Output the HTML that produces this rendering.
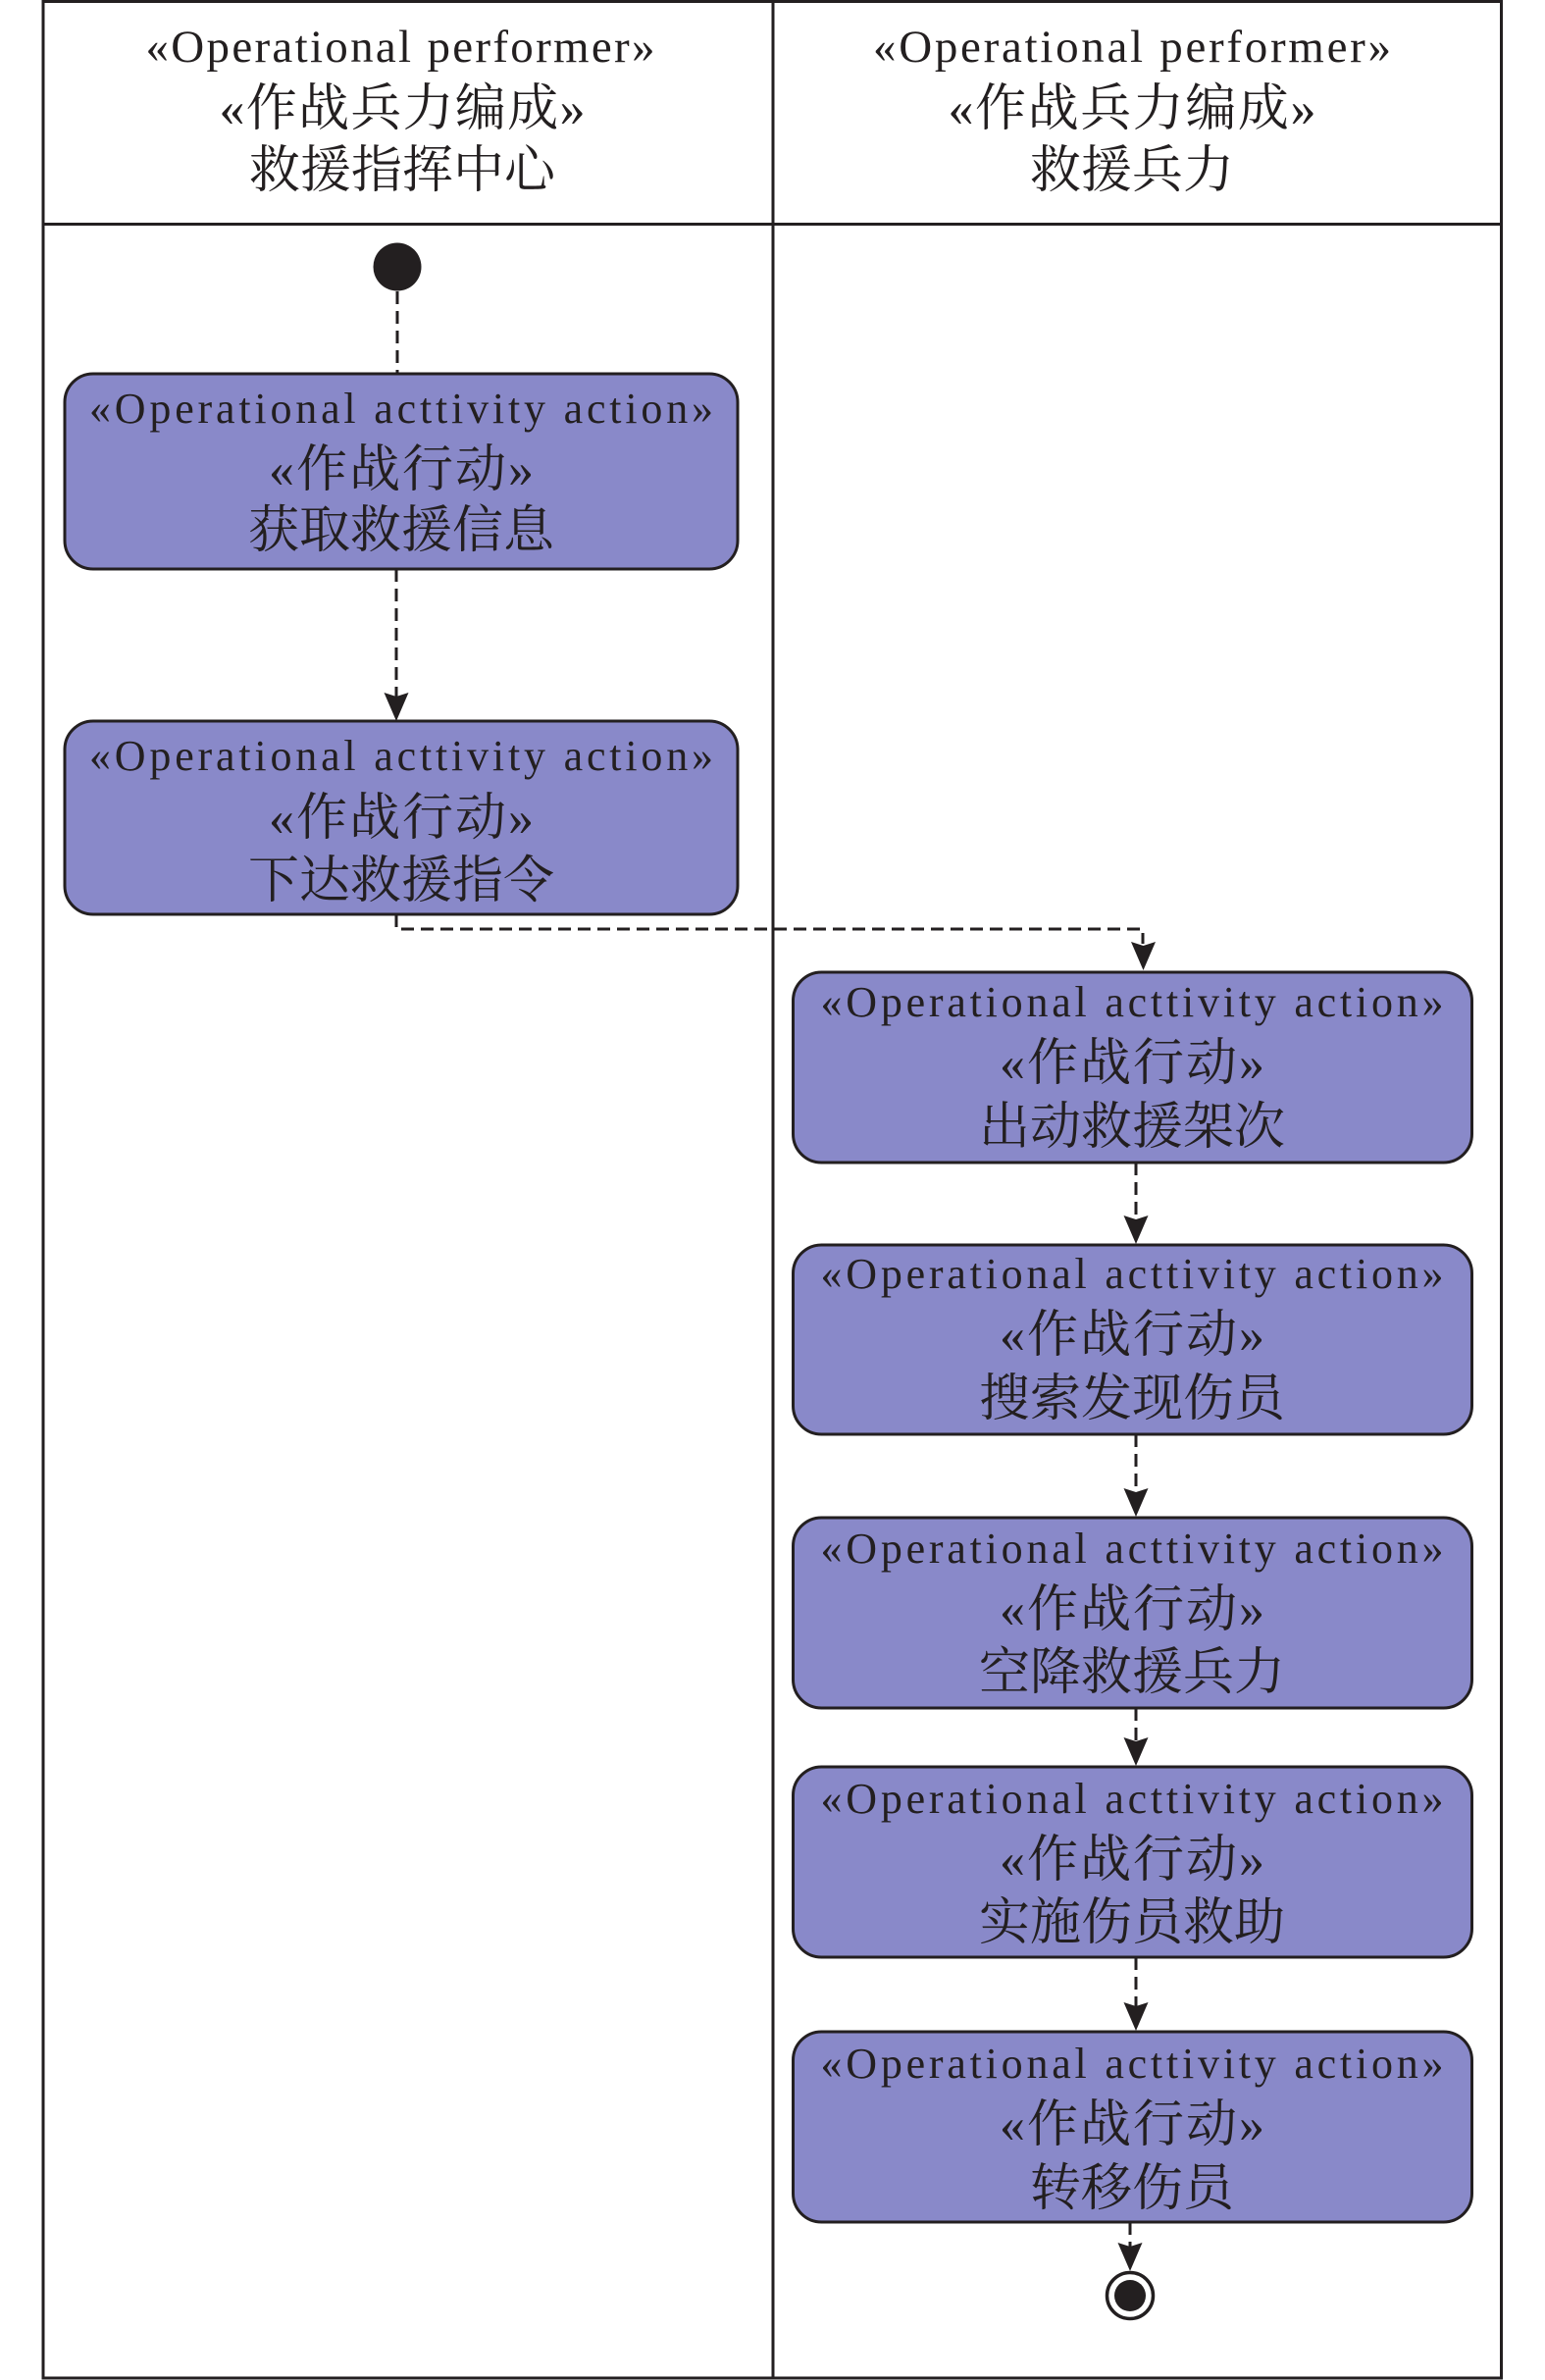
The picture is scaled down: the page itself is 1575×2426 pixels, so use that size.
<!DOCTYPE html>
<html>
<head>
<meta charset="utf-8">
<style>
  html, body { margin: 0; padding: 0; background: #ffffff; }
  svg { display: block; }
  .lat { font-family: "Liberation Serif", "Noto Serif CJK SC", serif; fill: #231f20; }
  .cjk { font-family: "Liberation Serif", "Noto Serif CJK SC", "Noto Sans CJK SC", serif; fill: #231f20; }
</style>
</head>
<body>
<svg xmlns="http://www.w3.org/2000/svg" width="1575" height="2426" viewBox="0 0 1575 2426">
  <rect x="0" y="0" width="1575" height="2426" fill="#ffffff"/>

  <!-- Swimlane frame -->
  <g stroke="#231f20" stroke-width="3" fill="none">
    <rect x="44" y="1.5" width="1486.5" height="2422.5"/>
    <line x1="44" y1="228.5" x2="1530.5" y2="228.5"/>
    <line x1="788" y1="1.5" x2="788" y2="2424"/>
  </g>

  <!-- Lane headers -->
  <text class="lat" x="408" y="63" font-size="47" text-anchor="middle" textLength="519">«Operational performer»</text>
  <text class="cjk" x="410" y="128" font-size="52" text-anchor="middle" textLength="373">«作战兵力编成»</text>
  <text class="cjk" x="410" y="191" font-size="52" text-anchor="middle">救援指挥中心</text>

  <text class="lat" x="1154" y="63" font-size="47" text-anchor="middle" textLength="528">«Operational performer»</text>
  <text class="cjk" x="1154" y="128" font-size="52" text-anchor="middle" textLength="375">«作战兵力编成»</text>
  <text class="cjk" x="1154" y="191" font-size="52" text-anchor="middle">救援兵力</text>

  <!-- Initial node -->
  <circle cx="405" cy="272" r="24.5" fill="#231f20"/>

  <!-- Connectors (dashed) -->
  <g stroke="#231f20" stroke-width="3" fill="none" stroke-dasharray="13 7">
    <line x1="405" y1="297" x2="405" y2="381"/>
    <line x1="404" y1="580" x2="404" y2="710"/>
    <path d="M404 932 V947 H1165 V962"/>
    <line x1="1158" y1="1185" x2="1158" y2="1243"/>
    <line x1="1158" y1="1462" x2="1158" y2="1521"/>
    <line x1="1158" y1="1741" x2="1158" y2="1775"/>
    <line x1="1158" y1="1995" x2="1158" y2="2045"/>
    <line x1="1152" y1="2265" x2="1152" y2="2290"/>
  </g>

  <!-- Arrowheads -->
  <g fill="#231f20">
    <path d="M404 735 L391.5 706 L404 710 L416.5 706 Z"/>
    <path d="M1165.5 989 L1153 960 L1165.5 964 L1178 960 Z"/>
    <path d="M1158 1268 L1145.5 1239 L1158 1243 L1170.5 1239 Z"/>
    <path d="M1158 1546 L1145.5 1517 L1158 1521 L1170.5 1517 Z"/>
    <path d="M1158 1800 L1145.5 1771 L1158 1775 L1170.5 1771 Z"/>
    <path d="M1158 2070 L1145.5 2041 L1158 2045 L1170.5 2041 Z"/>
    <path d="M1152 2315 L1139.5 2286 L1152 2290 L1164.5 2286 Z"/>
  </g>

  <!-- Final node -->
  <circle cx="1152" cy="2340" r="23.5" fill="#ffffff" stroke="#231f20" stroke-width="3.5"/>
  <circle cx="1152" cy="2340" r="16" fill="#231f20"/>

  <!-- Action boxes -->
  <g fill="#8989c9" stroke="#231f20" stroke-width="3">
    <rect x="66" y="381" width="686" height="199" rx="29" ry="29"/>
    <rect x="66" y="735" width="686" height="197" rx="29" ry="29"/>
    <rect x="808.5" y="991" width="692" height="194" rx="29" ry="29"/>
    <rect x="808.5" y="1269" width="692" height="193" rx="29" ry="29"/>
    <rect x="808.5" y="1547" width="692" height="194" rx="29" ry="29"/>
    <rect x="808.5" y="1801" width="692" height="194" rx="29" ry="29"/>
    <rect x="808.5" y="2071" width="692" height="194" rx="29" ry="29"/>
  </g>

  <!-- Box 1 -->
  <text class="lat" x="409" y="431" font-size="44" text-anchor="middle" textLength="636">«Operational acttivity action»</text>
  <text class="cjk" x="409" y="496" font-size="52" text-anchor="middle" textLength="270">«作战行动»</text>
  <text class="cjk" x="409" y="558" font-size="52" text-anchor="middle">获取救援信息</text>

  <!-- Box 2 -->
  <text class="lat" x="409" y="785" font-size="44" text-anchor="middle" textLength="636">«Operational acttivity action»</text>
  <text class="cjk" x="409" y="851" font-size="52" text-anchor="middle" textLength="270">«作战行动»</text>
  <text class="cjk" x="409" y="915" font-size="52" text-anchor="middle">下达救援指令</text>

  <!-- Box 3 -->
  <text class="lat" x="1154" y="1036" font-size="44" text-anchor="middle" textLength="635">«Operational acttivity action»</text>
  <text class="cjk" x="1154" y="1101" font-size="52" text-anchor="middle" textLength="270">«作战行动»</text>
  <text class="cjk" x="1154" y="1166" font-size="52" text-anchor="middle">出动救援架次</text>

  <!-- Box 4 -->
  <text class="lat" x="1154" y="1313" font-size="44" text-anchor="middle" textLength="635">«Operational acttivity action»</text>
  <text class="cjk" x="1154" y="1378" font-size="52" text-anchor="middle" textLength="270">«作战行动»</text>
  <text class="cjk" x="1154" y="1443" font-size="52" text-anchor="middle">搜索发现伤员</text>

  <!-- Box 5 -->
  <text class="lat" x="1154" y="1593" font-size="44" text-anchor="middle" textLength="635">«Operational acttivity action»</text>
  <text class="cjk" x="1154" y="1658" font-size="52" text-anchor="middle" textLength="270">«作战行动»</text>
  <text class="cjk" x="1154" y="1722" font-size="52" text-anchor="middle">空降救援兵力</text>

  <!-- Box 6 -->
  <text class="lat" x="1154" y="1848" font-size="44" text-anchor="middle" textLength="635">«Operational acttivity action»</text>
  <text class="cjk" x="1154" y="1913" font-size="52" text-anchor="middle" textLength="270">«作战行动»</text>
  <text class="cjk" x="1154" y="1977" font-size="52" text-anchor="middle">实施伤员救助</text>

  <!-- Box 7 -->
  <text class="lat" x="1154" y="2118" font-size="44" text-anchor="middle" textLength="635">«Operational acttivity action»</text>
  <text class="cjk" x="1154" y="2183" font-size="52" text-anchor="middle" textLength="270">«作战行动»</text>
  <text class="cjk" x="1154" y="2248" font-size="52" text-anchor="middle">转移伤员</text>
</svg>
</body>
</html>
